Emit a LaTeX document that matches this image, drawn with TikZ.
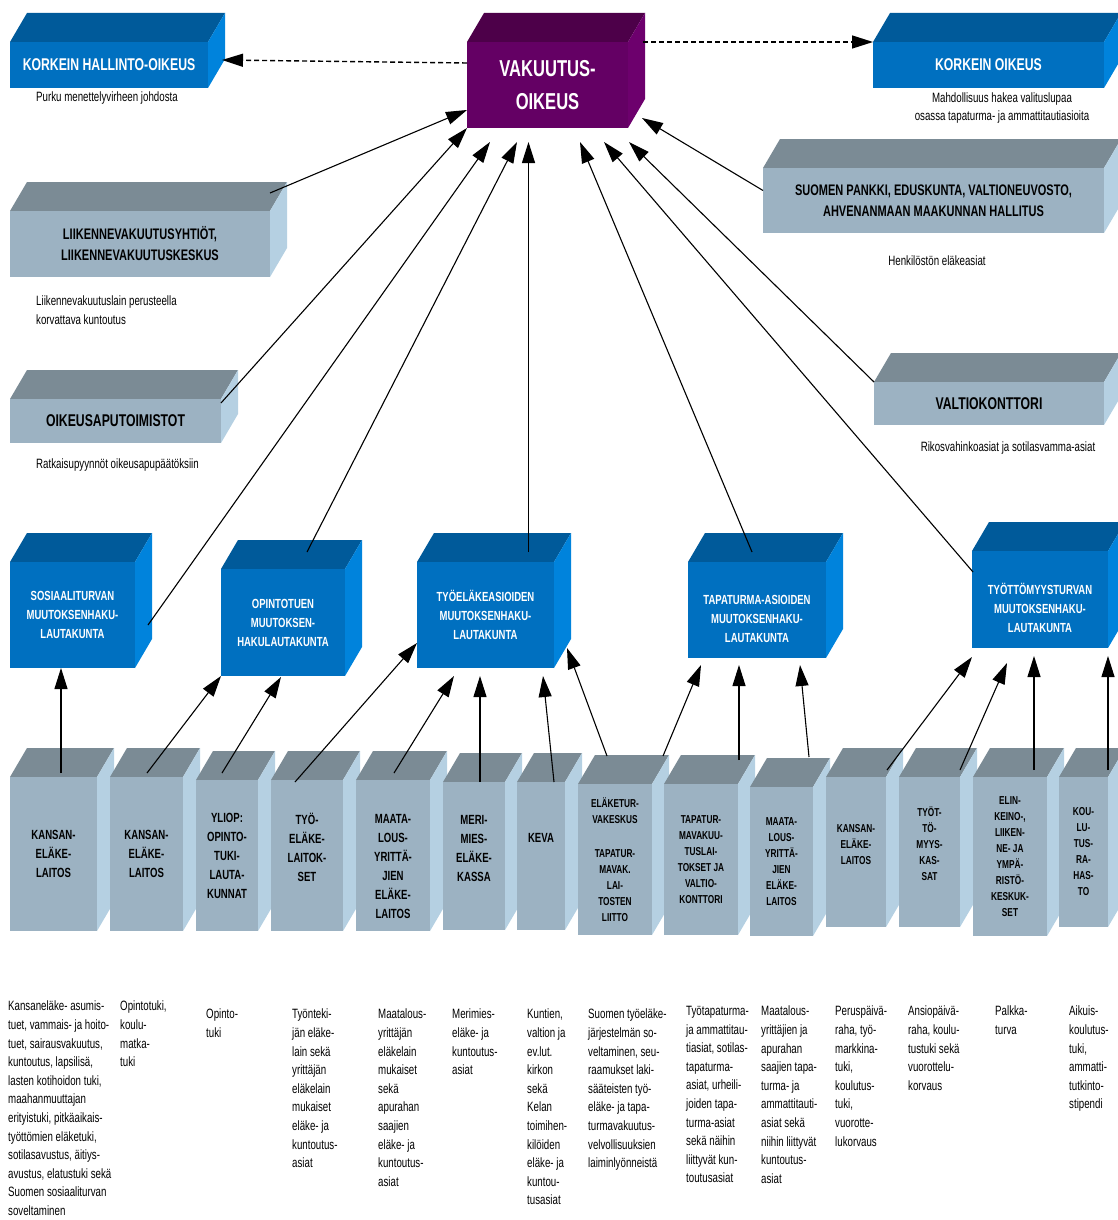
\documentclass[tikz,border=0pt]{standalone}
\usepackage{fontspec}
\newfontfamily\Narrow{Liberation Sans}[FakeStretch=0.72]
\usetikzlibrary{arrows.meta}
\definecolor{BlueFront}{HTML}{0070C0}
\definecolor{BlueTop}{HTML}{005A9A}
\definecolor{BlueSide}{HTML}{0083DC}
\definecolor{PurpFront}{HTML}{640064}
\definecolor{PurpTop}{HTML}{4D0049}
\definecolor{PurpSide}{HTML}{6D006D}
\definecolor{GrayFront}{HTML}{9CB2C2}
\definecolor{GrayTop}{HTML}{7B8B95}
\definecolor{GraySide}{HTML}{B5D0E2}
\tikzset{
  BoxStyle/.style     = { rectangle, inner sep=0pt, outer sep=0pt, align=center,
                          fill=#1Front,
                          append after command={\pgfextra{
                            \fill[#1Top] (\tikzlastnode.north west) -- ++(17,-29)
                              -- ([shift={(17,-29)}]\tikzlastnode.north east)
                              -- (\tikzlastnode.north east) -- cycle;
                            \fill[#1Side] (\tikzlastnode.north east) -- ++(17,-29)
                              -- ([shift={(17,-29)}]\tikzlastnode.south east)
                              -- (\tikzlastnode.south east) -- cycle;}}},
  CourtStyle/.style   = { text=white, font=\Narrow\bfseries\fontsize{23}{33}\selectfont },
  TopStyle/.style     = { text=white, font=\Narrow\bfseries\fontsize{17}{21}\selectfont },
  AgencyStyle/.style  = { text=black, font=\Narrow\bfseries\fontsize{15.3}{21}\selectfont },
  BoardStyle/.style   = { text=white, font=\Narrow\bfseries\fontsize{13.2}{19}\selectfont },
  UnitStyle/.style    = { text=black, font=\Narrow\bfseries\fontsize{13.3}{19}\selectfont },
  SmallStyle/.style   = { text=black, font=\Narrow\bfseries\fontsize{11.5}{16}\selectfont },
  NoteStyle/.style    = { inner sep=0pt, align=left, text=black,
                          font=\Narrow\fontsize{13.5}{18.6}\selectfont },
  EdgeStyle/.style    = { -{Triangle[length=21pt, width=13pt]}, line width=1.1pt },
  DashStyle/.style    = { -{Triangle[length=21pt, width=13pt]}, line width=1.4pt,
                          dash pattern=on 5pt off 3pt }
}
\begin{document}
\begin{tikzpicture}[x=1pt, y=-1pt]
  \clip (0,0) rectangle (1118,1220);
  \fill[white] (0,0) rectangle (1118,1220);

  \node[BoxStyle=Blue, TopStyle, minimum width=198pt, minimum height=46pt] (KHO) at (109,65) {KORKEIN HALLINTO-OIKEUS};
  \node[BoxStyle=Purp, CourtStyle, minimum width=161pt, minimum height=86pt] (VO) at (547.5,85) {VAKUUTUS-\\OIKEUS};
  \node[BoxStyle=Blue, TopStyle, minimum width=231pt, minimum height=46pt] (KO) at (988.5,65) {KORKEIN OIKEUS};

  \node[BoxStyle=Gray, AgencyStyle, minimum width=260pt, minimum height=66pt] (LIIK) at (140,244) {LIIKENNEVAKUUTUSYHTIÖT,\\LIIKENNEVAKUUTUSKESKUS};
  \node[BoxStyle=Gray, TopStyle, text=black, minimum width=211pt, minimum height=44pt] (OAT) at (115.5,421) {OIKEUSAPUTOIMISTOT};
  \node[BoxStyle=Gray, AgencyStyle, minimum width=341pt, minimum height=65pt] (SP) at (933.5,200.5) {SUOMEN PANKKI, EDUSKUNTA, VALTIONEUVOSTO,\\AHVENANMAAN MAAKUNNAN HALLITUS};
  \node[BoxStyle=Gray, TopStyle, text=black, minimum width=230pt, minimum height=43pt] (VK) at (989,403.5) {VALTIOKONTTORI};

  \node[NoteStyle, anchor=west] (KHOn) at (36,98) {Purku menettelyvirheen johdosta};
  \node[NoteStyle, align=center] (KOn) at (1002,108) {Mahdollisuus hakea valituslupaa\\osassa tapaturma- ja ammattitautiasioita};
  \node[NoteStyle, anchor=west] (LIIKn) at (36,310) {Liikennevakuutuslain perusteella\\korvattava kuntoutus};
  \node[NoteStyle, anchor=west] (OATn) at (36,465) {Ratkaisupyynnöt oikeusapupäätöksiin};
  \node[NoteStyle] (SPn) at (937,261) {Henkilöstön eläkeasiat};
  \node[NoteStyle] (VKn) at (1008,448) {Rikosvahinkoasiat ja sotilasvamma-asiat};

  \node[BoxStyle=Blue, BoardStyle, minimum width=125pt, minimum height=106pt] (SOS) at (72.5,615) {SOSIAALITURVAN\\MUUTOKSENHAKU-\\LAUTAKUNTA};
  \node[BoxStyle=Blue, BoardStyle, minimum width=124pt, minimum height=107pt] (OPT) at (283,622.5) {OPINTOTUEN\\MUUTOKSEN-\\HAKULAUTAKUNTA};
  \node[BoxStyle=Blue, BoardStyle, minimum width=137pt, minimum height=106pt] (TEL) at (485.5,615) {TYÖELÄKEASIOIDEN\\MUUTOKSENHAKU-\\LAUTAKUNTA};
  \node[BoxStyle=Blue, BoardStyle, text height=64.5pt, minimum width=138pt, minimum height=96pt] (TAP) at (757,610) {TAPATURMA-ASIOIDEN\\MUUTOKSENHAKU-\\LAUTAKUNTA};
  \node[BoxStyle=Blue, BoardStyle, text height=65.5pt, minimum width=136pt, minimum height=97pt] (TTT) at (1040,599.5) {TYÖTTÖMYYSTURVAN\\MUUTOKSENHAKU-\\LAUTAKUNTA};

  \node[BoxStyle=Gray, UnitStyle, minimum width=87pt, minimum height=154pt] (KELA1) at (53.5,854) {KANSAN-\\ELÄKE-\\LAITOS};
  \node[BoxStyle=Gray, UnitStyle, minimum width=73pt, minimum height=154pt] (KELA2) at (146.5,854) {KANSAN-\\ELÄKE-\\LAITOS};
  \node[BoxStyle=Gray, UnitStyle, minimum width=62pt, minimum height=151pt] (YLIOP) at (227,855.5) {YLIOP:\\OPINTO-\\TUKI-\\LAUTA-\\KUNNAT};
  \node[BoxStyle=Gray, UnitStyle, text depth=16pt, minimum width=72pt, minimum height=151pt] (TELK) at (307,855.5) {TYÖ-\\ELÄKE-\\LAITOK-\\SET};
  \node[BoxStyle=Gray, UnitStyle, text height=126.5pt, minimum width=74pt, minimum height=151pt] (MAAT1) at (393,855.5) {MAATA-\\LOUS-\\YRITTÄ-\\JIEN\\ELÄKE-\\LAITOS};
  \node[BoxStyle=Gray, UnitStyle, text depth=16pt, minimum width=62pt, minimum height=148pt] (MERI) at (474,856) {MERI-\\MIES-\\ELÄKE-\\KASSA};
  \node[BoxStyle=Gray, UnitStyle, text depth=36pt, minimum width=48pt, minimum height=148pt] (KEVA) at (541,856) {KEVA};
  \node[BoxStyle=Gray, SmallStyle, minimum width=74pt, minimum height=151pt] (EKS) at (615,859.5) {ELÄKETUR-\\VAKESKUS\\[18pt]TAPATUR-\\MAVAK.\\LAI-\\TOSTEN\\LIITTO};
  \node[BoxStyle=Gray, SmallStyle, minimum width=74pt, minimum height=151pt] (TVL) at (701,859.5) {TAPATUR-\\MAVAKUU-\\TUSLAI-\\TOKSET JA\\VALTIO-\\KONTTORI};
  \node[BoxStyle=Gray, SmallStyle, minimum width=63pt, minimum height=149pt] (MAAT2) at (781.5,861.5) {MAATA-\\LOUS-\\YRITTÄ-\\JIEN\\ELÄKE-\\LAITOS};
  \node[BoxStyle=Gray, SmallStyle, text depth=16pt, minimum width=60pt, minimum height=150pt] (KELA3) at (856,852) {KANSAN-\\ELÄKE-\\LAITOS};
  \node[BoxStyle=Gray, SmallStyle, text depth=16pt, minimum width=61pt, minimum height=150pt] (TKAS) at (929.5,852) {TYÖT-\\TÖ-\\MYYS-\\KAS-\\SAT};
  \node[BoxStyle=Gray, SmallStyle, minimum width=74pt, minimum height=159pt] (ELY) at (1010,856.5) {ELIN-\\KEINO-,\\LIIKEN-\\NE- JA\\YMPÄ-\\RISTÖ-\\KESKUK-\\SET};
  \node[BoxStyle=Gray, SmallStyle, minimum width=49pt, minimum height=150pt] (KOUL) at (1083.5,852) {KOU-\\LU-\\TUS-\\RA-\\HAS-\\TO};

  \node[NoteStyle, anchor=north west] (KELA1n) at (8,1001) {Kansaneläke- asumis-\\tuet, vammais- ja hoito-\\tuet, sairausvakuutus,\\kuntoutus, lapsilisä,\\lasten kotihoidon tuki,\\maahanmuuttajan\\erityistuki, pitkäaikais-\\työttömien eläketuki,\\sotilasavustus, äitiys-\\avustus, elatustuki sekä\\Suomen sosiaaliturvan\\soveltaminen};
  \node[NoteStyle, anchor=north west] (KELA2n) at (120,1001) {Opintotuki,\\koulu-\\matka-\\tuki};
  \node[NoteStyle, anchor=north west] (YLIOPn) at (206,1009) {Opinto-\\tuki};
  \node[NoteStyle, anchor=north west] (TELKn) at (292,1009) {Työnteki-\\jän eläke-\\lain sekä\\yrittäjän\\eläkelain\\mukaiset\\eläke- ja\\kuntoutus-\\asiat};
  \node[NoteStyle, anchor=north west] (MAAT1n) at (378,1009) {Maatalous-\\yrittäjän\\eläkelain\\mukaiset\\sekä\\apurahan\\saajien\\eläke- ja\\kuntoutus-\\asiat};
  \node[NoteStyle, anchor=north west] (MERIn) at (452,1009) {Merimies-\\eläke- ja\\kuntoutus-\\asiat};
  \node[NoteStyle, anchor=north west] (KEVAn) at (527,1009) {Kuntien,\\valtion ja\\ev.lut.\\kirkon\\sekä\\Kelan\\toimihen-\\kilöiden\\eläke- ja\\kuntou-\\tusasiat};
  \node[NoteStyle, anchor=north west] (EKSn) at (588,1009) {Suomen työeläke-\\järjestelmän so-\\veltaminen, seu-\\raamukset laki-\\sääteisten työ-\\eläke- ja tapa-\\turmavakuutus-\\velvollisuuksien\\laiminlyönneistä};
  \node[NoteStyle, anchor=north west] (TVLn) at (686,1006) {Työtapaturma-\\ja ammattitau-\\tiasiat, sotilas-\\tapaturma-\\asiat, urheili-\\joiden tapa-\\turma-asiat\\sekä näihin\\liittyvät kun-\\toutusasiat};
  \node[NoteStyle, anchor=north west] (MAAT2n) at (761,1006) {Maatalous-\\yrittäjien ja\\apurahan\\saajien tapa-\\turma- ja\\ammattitauti-\\asiat sekä\\niihin liittyvät\\kuntoutus-\\asiat};
  \node[NoteStyle, anchor=north west] (KELA3n) at (835,1006) {Peruspäivä-\\raha, työ-\\markkina-\\tuki,\\koulutus-\\tuki,\\vuorotte-\\lukorvaus};
  \node[NoteStyle, anchor=north west] (TKASn) at (908,1006) {Ansiopäivä-\\raha, koulu-\\tustuki sekä\\vuorottelu-\\korvaus};
  \node[NoteStyle, anchor=north west] (ELYn) at (995,1006) {Palkka-\\turva};
  \node[NoteStyle, anchor=north west] (KOULn) at (1069,1006) {Aikuis-\\koulutus-\\tuki,\\ammatti-\\tutkinto-\\stipendi};

  \draw[DashStyle] ([shift={(0,-22)}]VO.west) -- ([shift={(14,-5)}]KHO.east);
  \draw[DashStyle] ([shift={(15,0)}]VO.north east) -- (KO.north west);

  \draw[EdgeStyle] ([shift={(0,-18)}]LIIK.north east) -- ([shift={(0,25)}]VO.west);
  \draw[EdgeStyle] ([shift={(0,4)}]OAT.north east) -- (VO.south west);
  \draw[EdgeStyle] ([shift={(13,10)}]SOS.east) -- ([shift={(23,14)}]VO.south west);
  \draw[EdgeStyle] ([shift={(24,-17)}]OPT.north) -- ([shift={(50,14)}]VO.south west);
  \draw[EdgeStyle] ([shift={(43,-10)}]TEL.north) -- ([shift={(61.5,14)}]VO.south west);
  \draw[EdgeStyle] ([shift={(-5,-10)}]TAP.north) -- ([shift={(-48,14)}]VO.south east);
  \draw[EdgeStyle] ([shift={(1,21)}]TTT.north west) -- ([shift={(-24,14)}]VO.south east);
  \draw[EdgeStyle] (VK.north west) -- ([shift={(1,14)}]VO.south east);
  \draw[EdgeStyle] ([shift={(0,-10)}]SP.west) -- ([shift={(14,-10)}]VO.south east);

  \draw[EdgeStyle] ([shift={(7.5,-4)}]KELA1.north) -- ([shift={(-11.5,0)}]SOS.south);
  \draw[EdgeStyle] ([shift={(0.5,-4)}]KELA2.north) -- (OPT.south west);
  \draw[EdgeStyle] ([shift={(-5,-7)}]YLIOP.north) -- ([shift={(-2,1)}]OPT.south);
  \draw[EdgeStyle] ([shift={(-12,2)}]TELK.north) -- ([shift={(0,-25)}]TEL.south west);
  \draw[EdgeStyle] ([shift={(1,-7)}]MAAT1.north) -- ([shift={(-31.5,8)}]TEL.south);
  \draw[EdgeStyle] ([shift={(6,0)}]MERI.north) -- ([shift={(-5.5,8)}]TEL.south);
  \draw[EdgeStyle] ([shift={(13,0)}]KEVA.north) -- ([shift={(57.5,8)}]TEL.south);
  \draw[EdgeStyle] ([shift={(-8,-28)}]EKS.north) -- ([shift={(13,-20)}]TEL.south east);
  \draw[EdgeStyle] ([shift={(48,-28)}]EKS.north) -- ([shift={(13,7)}]TAP.south west);
  \draw[EdgeStyle] ([shift={(38,-24)}]TVL.north) -- ([shift={(-18,7)}]TAP.south);
  \draw[EdgeStyle] ([shift={(27.5,-30)}]MAAT2.north) -- ([shift={(43,7)}]TAP.south);
  \draw[EdgeStyle] ([shift={(31,-7)}]KELA3.north) -- ([shift={(0,9)}]TTT.south west);
  \draw[EdgeStyle] ([shift={(30.5,-7)}]TKAS.north) -- ([shift={(-33,15)}]TTT.south);
  \draw[EdgeStyle] ([shift={(24,-7)}]ELY.north) -- ([shift={(-6,8)}]TTT.south);
  \draw[EdgeStyle] ([shift={(24.5,-7)}]KOUL.north) -- ([shift={(0,8)}]TTT.south east);
\end{tikzpicture}
\end{document}
